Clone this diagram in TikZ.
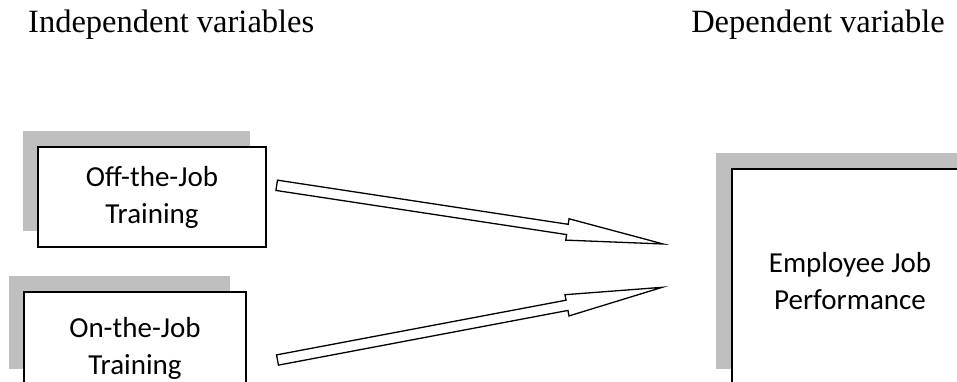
\documentclass[tikz,border=0pt]{standalone}
\usepackage{fontspec}
\setmainfont{Liberation Serif}
\newfontfamily\boxfont{Carlito}
\usetikzlibrary{calc}
\definecolor{shadowgray}{RGB}{191,191,191}
\begin{document}
\begin{tikzpicture}[x=1pt,y=-1pt,
  titletext/.style={inner sep=0pt, font=\fontsize{32.5}{39}\selectfont},
  framebox/.style={draw=black, line width=1.6pt, fill=white, inner sep=0pt},
  boxtext/.style={inner sep=0pt, align=center, font=\boxfont\fontsize{29}{37}\selectfont},
  shadowfill/.style={fill=shadowgray},
  blockarrow/.style={draw=black, line width=1.3pt, fill=white, line join=miter}]
\useasboundingbox (0,0) rectangle (957,381);
\clip (0,0) rectangle (957,381);

% titles
\node[titletext, anchor=base west] (indep) at (28,32) {Independent variables};
\node[titletext, anchor=base east] (dep) at (945,32) {Dependent variable};

% shadows
\fill[shadowfill] (23,131) rectangle (250,231);
\fill[shadowfill] (9,276) rectangle (230,369);
\fill[shadowfill] (716,153) rectangle (965,369);

% boxes
\node[framebox, minimum width=228pt, minimum height=100pt] (off) at (152,197) {};
\node[boxtext] (offtext) at (off.center) {Off-the-Job\\Training};
\node[framebox, minimum width=222pt, minimum height=100pt] (on) at (135,342) {};
\node[boxtext] (ontext) at ($(on.center)+(0,6)$) {On-the-Job\\Training};
\node[framebox, minimum width=236pt, minimum height=224pt] (perf) at (850,281) {};
\node[boxtext] (perftext) at (perf.center) {Employee Job\\Performance};

% arrow end points
\coordinate (a1s) at (276.7,185.3);
\coordinate (a1e) at (663.3,244);
\coordinate (a2s) at (277.5,360);
\coordinate (a2e) at (662.3,287.3);

% block arrows
\foreach \s/\e in {a1s/a1e, a2s/a2e}{
  \coordinate (hb) at ($(\e)!97pt!(\s)$);
  \draw[blockarrow]
    ($(\s)!5.2pt!90:(\e)$) -- ($(hb)!5.2pt!90:(\e)$) -- ($(hb)!10.8pt!90:(\e)$)
    -- (\e) -- ($(hb)!10.8pt!-90:(\e)$) -- ($(hb)!5.2pt!-90:(\e)$)
    -- ($(\s)!5.2pt!-90:(\e)$) -- cycle;
}
\end{tikzpicture}
\end{document}
